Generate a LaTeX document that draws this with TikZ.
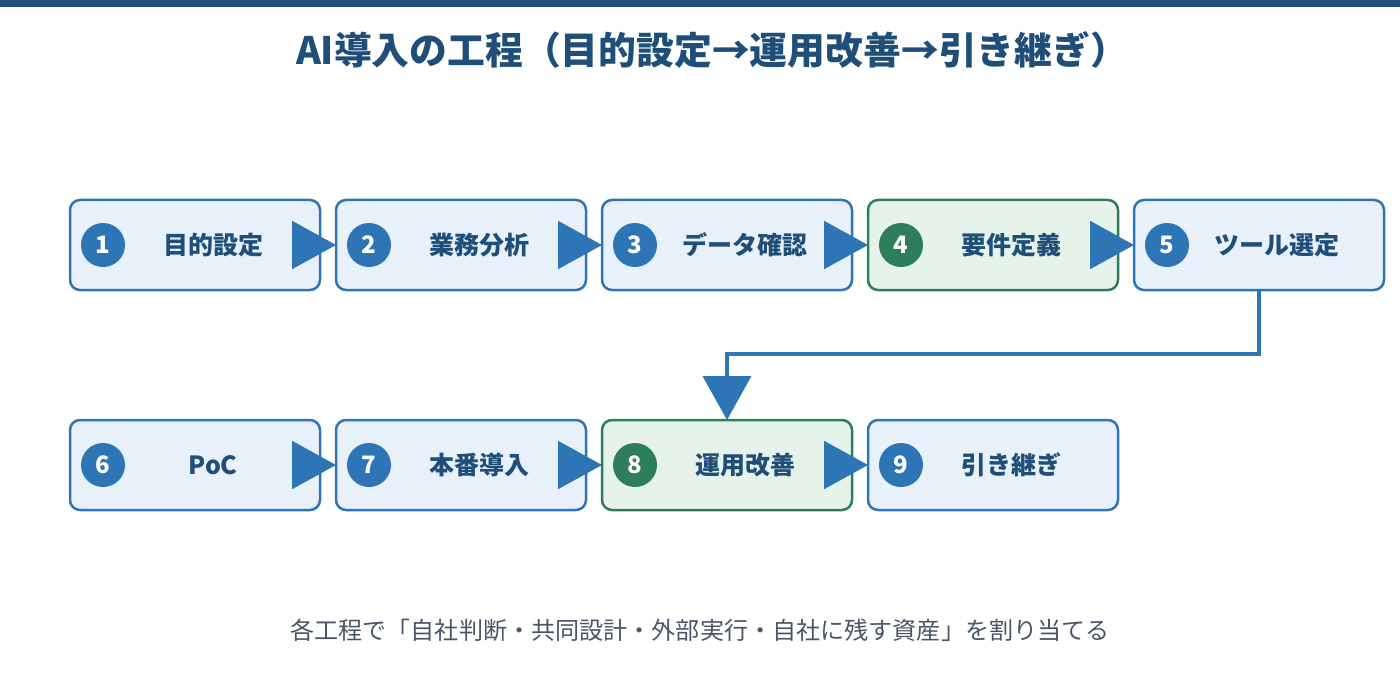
\documentclass[tikz,border=0pt]{standalone}
\usepackage{fontspec}
\setmainfont{Noto Sans CJK JP}
\usepackage{xcolor}
\usepackage{tikz}
\usetikzlibrary{arrows.meta,positioning,calc}

\definecolor{navy}{HTML}{1F4E79}
\definecolor{mainblue}{HTML}{2E75B6}
\definecolor{paleblue}{HTML}{E8F0F9}
\definecolor{deepgreen}{HTML}{2E7D5B}
\definecolor{palegreen}{HTML}{E6F3EA}
\definecolor{notegray}{HTML}{4A5568}

\begin{document}
\begin{tikzpicture}[
  x=0.5pt, y=-0.5pt,
  node distance=65pt and 8pt,
  stage/.style={
    draw=mainblue,
    line width=1.25pt,
    rounded corners=5pt,
    outer sep=0pt,
    minimum width=125pt,
    minimum height=45pt,
    fill=paleblue
  },
  focus/.style={stage, draw=deepgreen, fill=palegreen},
  num/.style={
    circle,
    fill=mainblue,
    minimum size=22pt,
    inner sep=0pt,
    text=white,
    font=\bfseries\fontsize{12}{14}\selectfont
  },
  numg/.style={num, fill=deepgreen},
  lbl/.style={text=navy, font=\bfseries\fontsize{12.5}{14}\selectfont},
  arr/.style={-{Triangle[length=22pt,width=24pt]}, line width=1pt, mainblue}
]
  \useasboundingbox (0,0) rectangle (1400,700);
  \fill[navy] (0,0) rectangle (1400,7);

  % Title
  \node[text=navy, font=\bfseries\fontsize{18.9}{22}\selectfont] (title) at (712,50)
    {AI導入の工程（目的設定→運用改善→引き継ぎ）};

  % Top row
  \node[stage] (b1) at (195,245) {};
  \node[stage, right=of b1] (b2) {};
  \node[stage, right=of b2] (b3) {};
  \node[focus, right=of b3] (b4) {};
  \node[stage, right=of b4] (b5) {};

  % Bottom row
  \node[stage, below=of b1] (b6) {};
  \node[stage, right=of b6] (b7) {};
  \node[focus, right=of b7] (b8) {};
  \node[stage, right=of b8] (b9) {};

  \node[num] (n1) at ([xshift=16.5pt]b1.west) {1};
  \node[num] (n2) at ([xshift=16.5pt]b2.west) {2};
  \node[num] (n3) at ([xshift=16.5pt]b3.west) {3};
  \node[numg] (n4) at ([xshift=16.5pt]b4.west) {4};
  \node[num] (n5) at ([xshift=16.5pt]b5.west) {5};
  \node[num] (n6) at ([xshift=16.5pt]b6.west) {6};
  \node[num] (n7) at ([xshift=16.5pt]b7.west) {7};
  \node[numg] (n8) at ([xshift=16.5pt]b8.west) {8};
  \node[num] (n9) at ([xshift=16.5pt]b9.west) {9};

  \node[lbl] (t1) at ([xshift=9pt]b1.center) {目的設定};
  \node[lbl] (t2) at ([xshift=9pt]b2.center) {業務分析};
  \node[lbl] (t3) at ([xshift=9pt]b3.center) {データ確認};
  \node[lbl] (t4) at ([xshift=9pt]b4.center) {要件定義};
  \node[lbl] (t5) at ([xshift=9pt]b5.center) {ツール選定};
  \node[lbl] (t6) at ([xshift=9pt]b6.center) {PoC};
  \node[lbl] (t7) at ([xshift=9pt]b7.center) {本番導入};
  \node[lbl] (t8) at ([xshift=9pt]b8.center) {運用改善};
  \node[lbl] (t9) at ([xshift=9pt]b9.center) {引き継ぎ};

  \draw[arr] (b1) -- (b2);
  \draw[arr] (b2) -- (b3);
  \draw[arr] (b3) -- (b4);
  \draw[arr] (b4) -- (b5);
  \draw[arr, line width=2pt] (b5.south) -- ++(0,-32pt) -| (b8.north);
  \draw[arr] (b6) -- (b7);
  \draw[arr] (b7) -- (b8);
  \draw[arr] (b8) -- (b9);

  % Note
  \node[text=notegray, font=\fontsize{12.05}{14}\selectfont] (note) at (700,630)
    {各工程で「自社判断・共同設計・外部実行・自社に残す資産」を割り当てる};
\end{tikzpicture}
\end{document}
